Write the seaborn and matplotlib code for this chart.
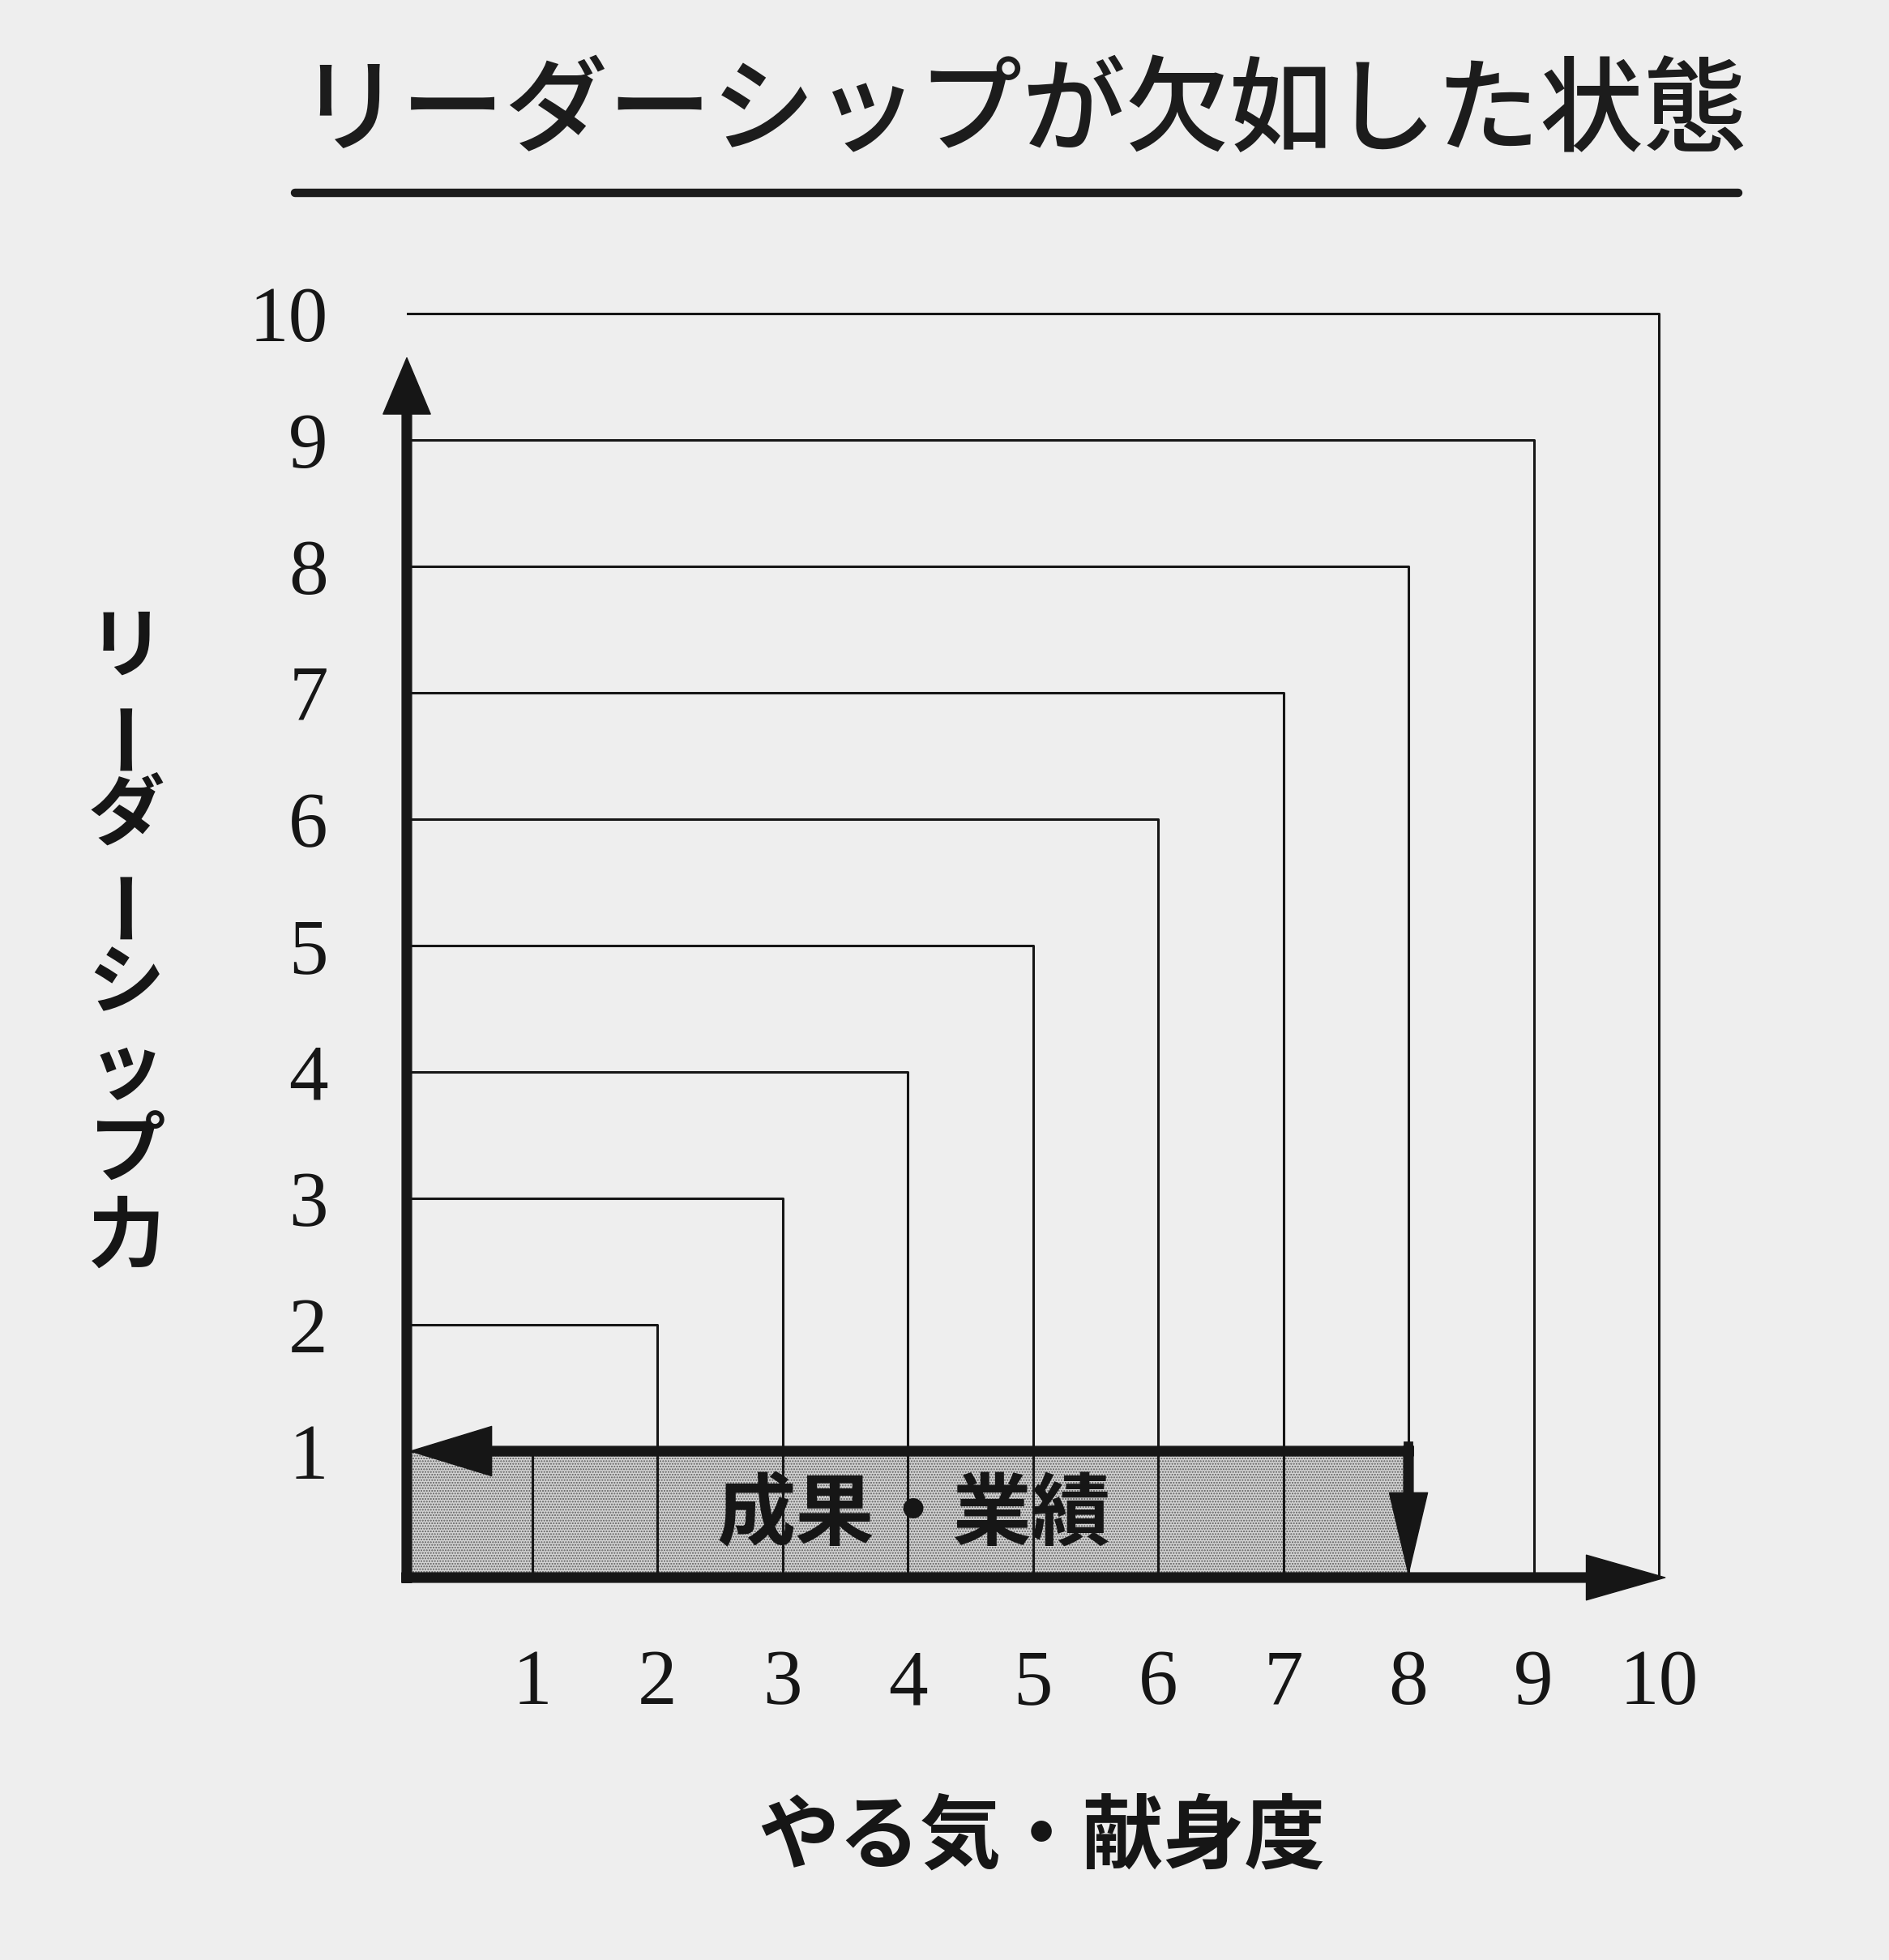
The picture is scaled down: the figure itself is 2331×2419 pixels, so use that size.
import numpy as np
import pandas as pd
import matplotlib.pyplot as plt
import seaborn as sns
from matplotlib.patches import FancyArrowPatch
from matplotlib.lines import Line2D

# --- datos del gráfico ---
levels = [1, 2, 3, 4, 5, 6, 7, 8, 9, 10]          # niveles de las escuadras (x = y)
tick_labels = [str(v) for v in levels]
band_cells = [0, 1, 2, 3, 4, 5, 6, 7]              # celdas sombreadas "成果・業績"
band_height = [1, 1, 1, 1, 1, 1, 1, 1]
motivation = 8                                      # やる気・献身度
leadership = 1                                      # リーダーシップ力

title = "リーダーシップが欠如した状態"
ylabel_chars = list("リーダーシップ力")
xlabel = "やる気・献身度"
band_label = "成果・業績"

sns.set_style("white")
jp = ["Noto Sans CJK JP", "DejaVu Sans"]
serif = ["Liberation Serif", "DejaVu Serif"]
plt.rcParams["font.family"] = jp

W, H = 2331, 2419
ux, uy = 154.5, 156        # píxeles por unidad
fig = plt.figure(figsize=(W / 100, H / 100), dpi=100, facecolor="#eeeeee")
ax = fig.add_axes([502 / W, 472 / H, 10.6 * ux / W, 10.3 * uy / H])
ax.set_facecolor("none")
ax.set_xlim(0, 10.6)
ax.set_ylim(0, 10.3)
for s in ax.spines.values():
    s.set_visible(False)

ink = "#161616"

# celdas sombreadas
ax.bar(band_cells, band_height, width=1, align="edge", color="#d2d2d2",
       edgecolor="#5e5e5e", linewidth=0, hatch=".....", zorder=1)

# escuadras finas: horizontal en y=k hasta x=k, vertical en x=k hasta 0
for k in levels:
    df = pd.DataFrame({"x": [0, k, k], "y": [k, k, 0]})
    sns.lineplot(data=df, x="x", y="y", sort=False, estimator=None,
                 color=ink, linewidth=2.2, ax=ax, zorder=2)
ax.set_xlabel("")
ax.set_ylabel("")


def arrow(p0, p1, hl, hw):
    a = FancyArrowPatch(p0, p1, arrowstyle=f"simple,head_length={hl},head_width={hw},tail_width=0.085",
                        mutation_scale=100, color=ink, shrinkA=0, shrinkB=0,
                        zorder=5, clip_on=False)
    ax.add_patch(a)


# ejes con flecha
arrow((0, -0.04), (0, 9.65), 0.5, 0.42)
arrow((-0.04, 0), (10.05, 0), 0.7, 0.40)
# flechas de la banda
ax.add_line(Line2D([motivation, motivation], [leadership - 0.01, leadership + 0.04],
                   color=ink, lw=8.5, solid_capstyle="projecting", zorder=5))
arrow((motivation + 0.04, leadership), (0.03, leadership), 0.72, 0.44)
arrow((motivation, leadership + 0.04), (motivation, 0.03), 0.72, 0.34)

ax.text(4.05, 0.49, band_label, ha="center", va="center", fontsize=70,
        fontweight="bold", color=ink, zorder=6)

# ticks
ax.set_xticks(levels)
ax.set_xticklabels(tick_labels)
ax.set_yticks(levels)
ax.set_yticklabels(tick_labels)
ax.tick_params(axis="both", length=0, labelsize=70, colors=ink)
ax.tick_params(axis="x", pad=64)
ax.tick_params(axis="y", pad=70)
for lab in ax.get_xticklabels() + ax.get_yticklabels():
    lab.set_family(serif)

# título y subrayado
fig.text(1262 / W, 1 - 140 / H, title, ha="center", va="center", fontsize=92,
         fontweight="medium", color="#1c1c1c")
fig.add_artist(Line2D([364 / W, 2145 / W], [1 - 238 / H, 1 - 238 / H],
                      transform=fig.transFigure, color="#1c1c1c", lw=7.5))

# etiqueta vertical del eje y
for i, ch in enumerate(ylabel_chars):
    rot = 90 if ch == "ー" else 0
    fig.text(156 / W, 1 - (800 + 104 * i) / H, ch, ha="center", va="center",
             fontsize=68, fontweight="bold", rotation=rot, color=ink)

# etiqueta del eje x
fig.text(1285 / W, 1 - 2268 / H, xlabel, ha="center", va="center", fontsize=72,
         fontweight="bold", color=ink)

fig.savefig("out.png", dpi=100, facecolor=fig.get_facecolor())
